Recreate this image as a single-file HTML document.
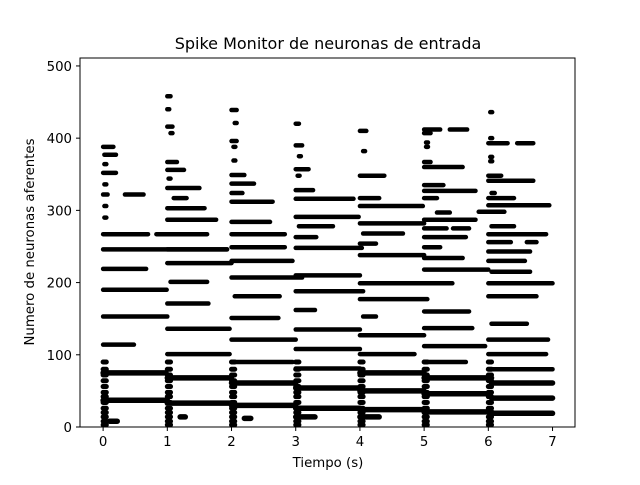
<!DOCTYPE html>
<html><head><meta charset="utf-8"><style>
body{margin:0;background:#fff}
svg text{font-family:"DejaVu Sans","Liberation Sans",sans-serif;fill:#000}
</style></head><body>
<svg id="chart" width="640" height="480" viewBox="0 0 640 480" xmlns="http://www.w3.org/2000/svg">
<rect width="640" height="480" fill="#fff"/>
<text x="328" y="49" font-size="16" text-anchor="middle">Spike Monitor de neuronas de entrada</text>
<g id="marks"></g>
<rect x="80" y="58" width="495" height="369" fill="none" stroke="#000" stroke-width="1"/>
<g id="axes"></g>
<text x="328" y="467" font-size="13.3" text-anchor="middle">Tiempo (s)</text>
<text transform="translate(34,242) rotate(-90)" font-size="13.3" text-anchor="middle">Numero de neuronas aferentes</text>
</svg>
<script>
const xTicks=[0,1,2,3,4,5,6,7];
const yTicks=[0,100,200,300,400,500];
// spike segments: neuron index, start time, end time
const segNeuron=[388,377,352,322,322,267,267,246,219,190,153,114,75,37,8,
458,440,416,367,356,331,317,303,287,246,227,201,171,136,101,68,33,14,
439,396,349,337,324,312,284,267,249,230,207,181,151,121,90,61,30,12,
420,390,357,328,316,291,278,263,248,210,188,162,135,108,81,54,26,14,
410,348,317,306,282,268,254,238,199,177,153,127,101,75,50,24,14,
412,412,407,367,360,335,327,317,297,287,275,275,263,249,234,218,160,137,112,90,68,46,21,
393,393,348,341,324,317,307,298,278,267,256,256,243,230,215,199,181,143,121,101,80,61,40,19];
const segStart=[0,0.02,0,0,0.34,0,0.83,0,0,0,0,0,0,0,0.1,
1,1,1,1,1,1,1.1,1,1,1,1,1.05,1,1,1,1,1,1.2,
2,2,2,2,2,2,2,2,2,2,2,2.05,2,2,2,2,2,2.2,
3,3,3,3,3,3,3.05,3,3,3,3,3,3,3,3,3,3,3,
4,4,4,4,4,4.05,4,4,4,4,4.05,4,4,4,4,4,4,
5,5.4,5,5,5,5,5,5,5.2,5,5,5.45,5,5,5,5,5,5,5,5,5,5,5,
6,6.45,6,6,6.05,6,6,5.85,6.05,6,6,6.6,6,6,6.05,6,6,6.05,6,6,6,6.05,6.05,6.05];
const segEnd=[0.16,0.2,0.2,0.07,0.63,0.7,1.62,1.93,0.67,0.99,1.0,0.48,0.98,1.0,0.22,
1.05,1.03,1.08,1.15,1.26,1.5,1.3,1.58,1.76,1.93,2.0,1.62,1.64,1.97,1.97,2.0,2.0,1.28,
2.08,2.08,2.2,2.35,2.17,2.64,2.6,2.83,2.83,2.95,3.1,2.75,2.73,3.0,2.95,3.0,3.0,2.3,
3.05,3.1,3.2,3.27,3.9,3.98,3.58,3.32,4.03,4.0,4.05,3.3,4.0,4.0,4.0,4.0,4.0,3.3,
4.1,4.38,4.3,4.98,5.0,4.67,4.25,5.0,5.44,5.05,4.25,5.0,4.85,5.0,5.0,5.0,4.3,
5.25,5.67,5.1,5.1,5.6,5.3,5.8,5.2,5.4,5.8,5.35,5.7,5.65,5.25,5.6,6.0,5.7,5.75,5.95,5.65,6.05,6.0,6.05,
6.3,6.7,6.2,6.7,6.1,6.4,6.95,6.25,6.4,6.9,6.35,6.75,6.65,6.57,6.65,7.0,6.75,6.6,6.93,6.9,7.0,7.0,7.0,7.0];
// onset bursts: window start times and neurons that fire briefly at onset
const burstTimes=[0,1,2,3,4,5,6];
const burstNeurons=[3,8,14,20,26,34,42,48,56,64,72,80,90];
const dotNeurons=[290,306,336,364,344,375,369,388,382,394,388,374,368,400,436,421,407,348];
const dotTimes=[0.02,0.02,0.02,0.02,1.02,3.05,2.03,2.03,4.05,5.03,5.03,6.03,6.03,6.03,6.03,2.05,1.05,3.03];

const X0=80,X1=575,Y0=427,Y1=58,xmin=-0.36,xmax=7.35,ymin=0,ymax=511;
const xs=t=>X0+(t-xmin)/(xmax-xmin)*(X1-X0);
const ys=n=>Y0-(n-ymin)/(ymax-ymin)*(Y0-Y1);
const NS="http://www.w3.org/2000/svg";
const marks=document.getElementById('marks');
function line(x1,y1,x2,y2,w,name){
  const l=document.createElementNS(NS,'line');
  l.setAttribute('x1',x1);l.setAttribute('y1',y1);l.setAttribute('x2',x2);l.setAttribute('y2',y2);
  l.setAttribute('stroke','#000');l.setAttribute('stroke-width',w);l.setAttribute('stroke-linecap','round');
  
  
  marks.appendChild(l);
}
for(let i=0;i<segNeuron.length;i++){
  const w=segNeuron[i]<80?5.5:4.5;
  line(xs(segStart[i]),ys(segNeuron[i]),xs(segEnd[i]),ys(segNeuron[i]),w,'spike-train');
}
burstTimes.forEach(t=>burstNeurons.forEach(n=>line(xs(t),ys(n),xs(t+0.05),ys(n),5,'onset-burst')));
for(let i=0;i<dotNeurons.length;i++) line(xs(dotTimes[i]),ys(dotNeurons[i]),xs(dotTimes[i]+0.03),ys(dotNeurons[i]),4.5,'spike-dot');

const axes=document.getElementById('axes');
xTicks.forEach(t=>{
  const x=xs(t);
  const l=document.createElementNS(NS,'line');
  l.setAttribute('x1',x);l.setAttribute('x2',x);l.setAttribute('y1',427);l.setAttribute('y2',431);l.setAttribute('stroke','#000');
  
  
  axes.appendChild(l);
  const tx=document.createElementNS(NS,'text');
  tx.setAttribute('x',x);tx.setAttribute('y',446);tx.setAttribute('font-size','13.3');tx.setAttribute('text-anchor','middle');
  tx.textContent=t;
  
  
  axes.appendChild(tx);
});
yTicks.forEach(v=>{
  const y=ys(v);
  const l=document.createElementNS(NS,'line');
  l.setAttribute('x1',76);l.setAttribute('x2',80);l.setAttribute('y1',y);l.setAttribute('y2',y);l.setAttribute('stroke','#000');
  
  
  axes.appendChild(l);
  const tx=document.createElementNS(NS,'text');
  tx.setAttribute('x',72);tx.setAttribute('y',y+5);tx.setAttribute('font-size','13.3');tx.setAttribute('text-anchor','end');
  tx.textContent=v;
  
  
  axes.appendChild(tx);
});
</script>
</body></html>
